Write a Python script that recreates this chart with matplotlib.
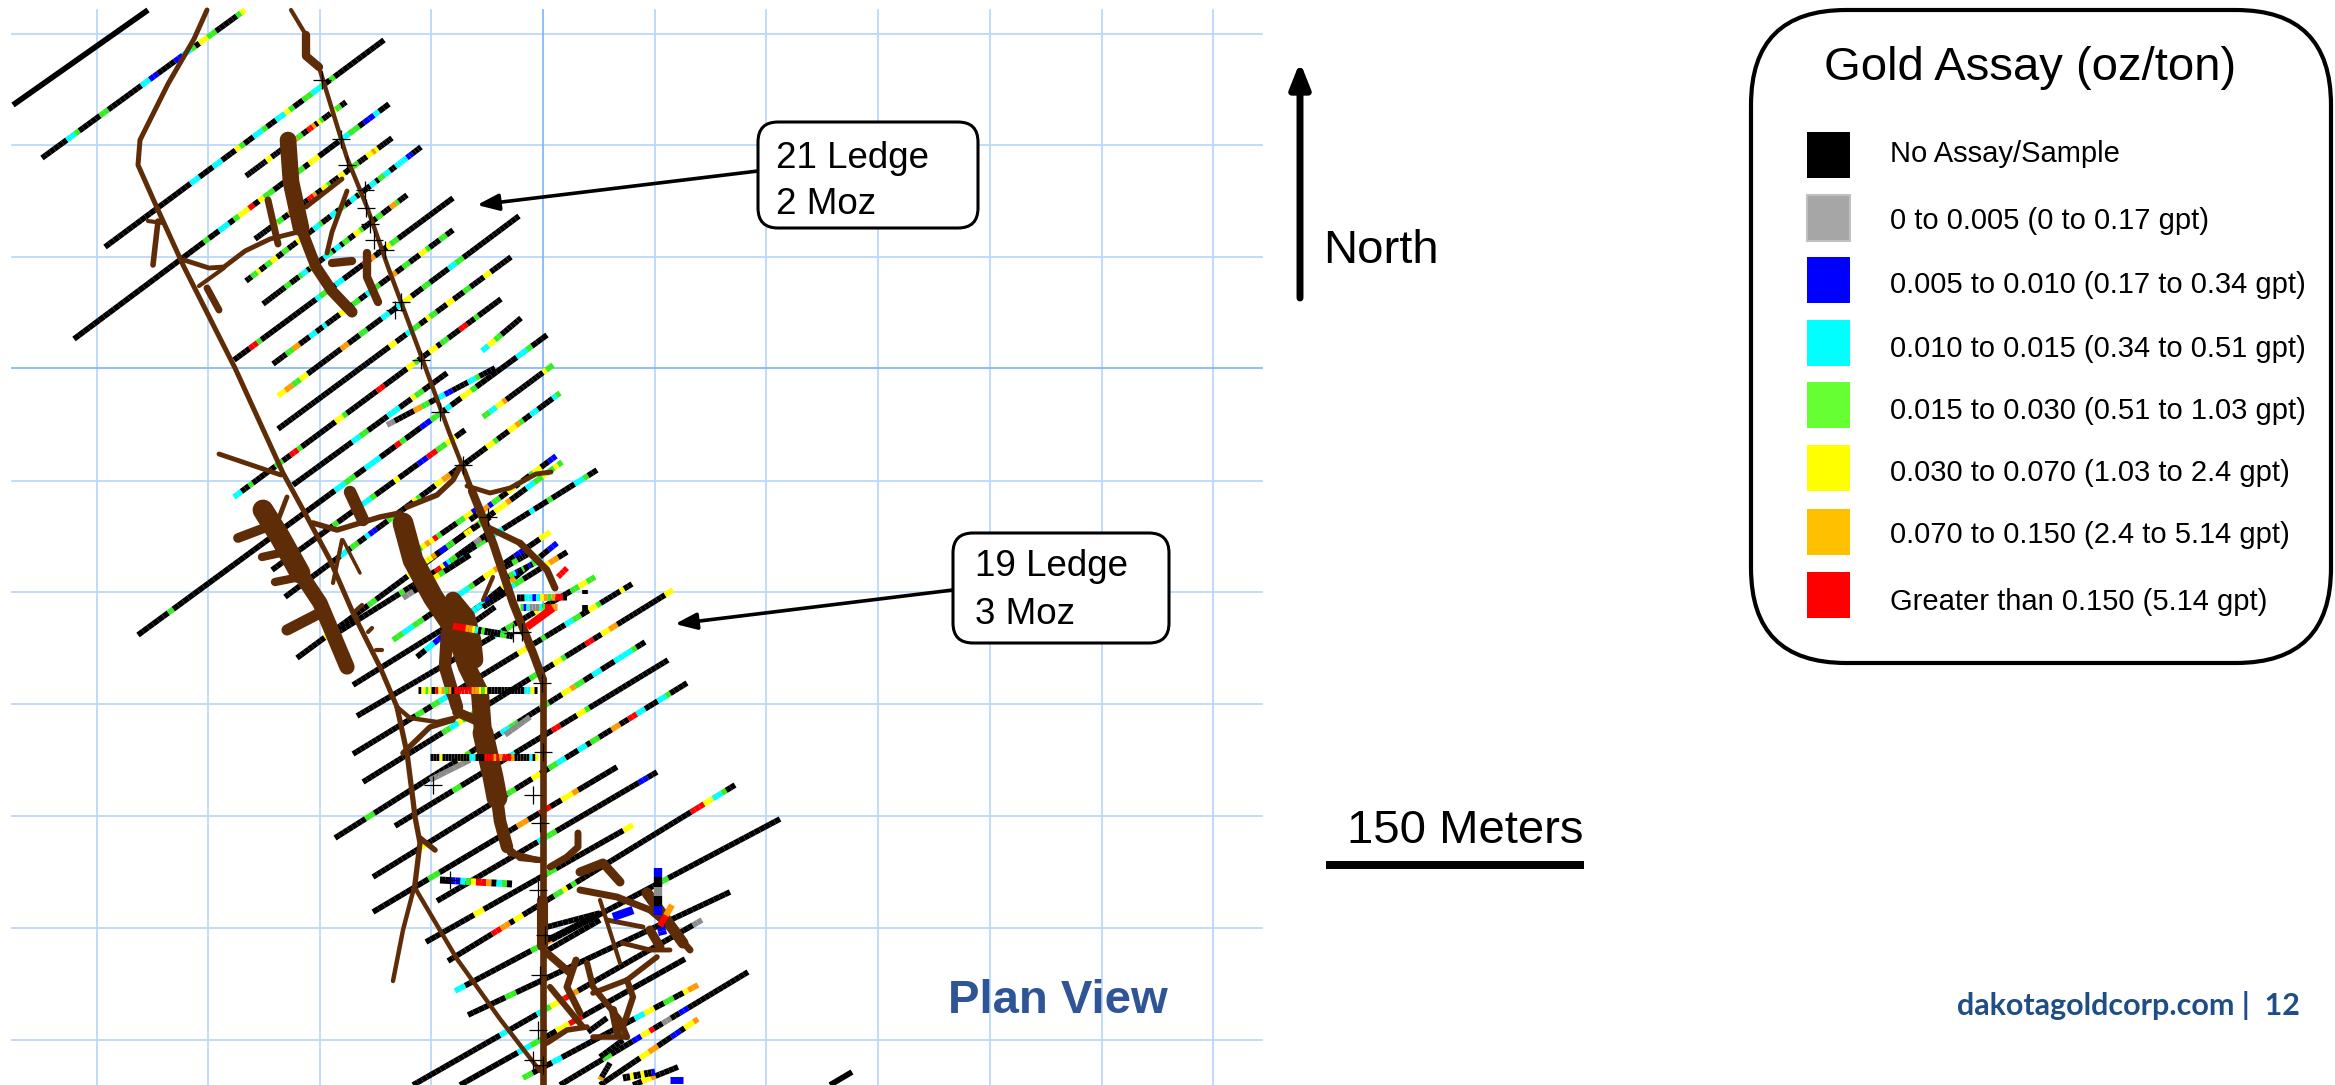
import matplotlib
matplotlib.use("Agg")
import matplotlib.pyplot as plt
from matplotlib.collections import LineCollection
from matplotlib.patches import FancyBboxPatch, Rectangle

plt.rcParams['font.family'] = ['Liberation Sans', 'DejaVu Sans']

W, H = 2335, 1085

# ---- map grid (pixel-registered map coordinates) ----
grid_x = [96.5, 208, 320, 431, 655, 766, 878, 990, 1102, 1213]
grid_y = [33.7, 144.5, 256.5, 481, 592, 704, 816, 928, 1040]
grid_x_major = [543]
grid_y_major = [368]

# ---- gold assay legend ----
legend_labels = ["No Assay/Sample", "0 to 0.005 (0 to 0.17 gpt)", "0.005 to 0.010 (0.17 to 0.34 gpt)",
                 "0.010 to 0.015 (0.34 to 0.51 gpt)", "0.015 to 0.030 (0.51 to 1.03 gpt)",
                 "0.030 to 0.070 (1.03 to 2.4 gpt)", "0.070 to 0.150 (2.4 to 5.14 gpt)",
                 "Greater than 0.150 (5.14 gpt)"]
legend_colors = ["#000000", "#a6a6a6", "#0000ff", "#00ffff", "#66ff33", "#ffff00", "#ffc000", "#ff0000"]
assay_colors = dict(k="#000000", a="#8c8c8c", b="#0000ff", c="#00ffff", l="#33ee22",
                    y="#ffff00", o="#ff9a00", r="#ff0000")

# ---- drill holes: collar, toe, assay code per equal interval ----
hole_start = [(13,105),(42,158),(105,247),(246,176),(74,339),
              (255,239),(246,281),(263,304),(234,360),(273,364),
              (278,396),(278,429),(234,497),(482,351),(293,485),
              (387,425),(483,417),(138,635),(272,570),(285,597),
              (297,658),(337,633),(353,685),(357,716),(353,754),
              (363,782),(335,838),(395,826),(373,877),(373,912),
              (437,901),(426,942),(448,961),(455,991),(468,1015),
              (413,1085),(460,1085),(523,1078),(560,1085),(600,1085),
              (633,1085),(830,1085),(393,640),(417,657),(558,577),
              (418,550),(425,562),(435,572),(505,578),(500,570),
              (483,607),(470,625),(547,927),(547,940),(548,950),
              (588,1032),(600,1057),(600,1080),(585,590),(585,605),
              (470,520),(403,598)]
hole_end = [(148,10),(245,10),(384,40),(346,102),(389,104),
            (392,138),(421,147),(407,195),(453,198),(453,230),
            (519,216),(511,257),(501,299),(521,318),(447,373),
            (495,368),(553,365),(547,335),(465,430),(560,393),
            (562,462),(597,470),(567,552),(595,577),(632,584),
            (673,590),(645,642),(668,660),(687,683),(617,767),
            (657,772),(633,825),(735,785),(780,819),(730,892),
            (702,920),(685,959),(698,985),(748,972),(698,1019),
            (678,1067),(852,1072),(550,532),(557,543),(567,568),
            (480,507),(490,517),(490,532),(537,562),(530,553),
            (510,590),(495,607),(600,913),(593,917),(600,920),
            (607,1018),(623,1040),(610,1063),(585,594),(585,611),
            (556,456),(470,555)]
hole_assay = [
 "k",
 "kkkkkkcclkkkkkllkkkkkkkkccbbkkkkbbcclkyyllkkkkkly",
 "kkkkkkkkkkkkkkkkkkkcckkkcckkkylkkcclkkccylkkllcclklkkkkkkkkkkk",
 "kkkkkkkkyykkkkrryyoollkkrrokylkkkyyllkk",
 "kkkkkkkkkkkkkkkkkkkkkkkkkklkkccklyyrkyllkkrrllkyykkkkccllkbbckk",
 "kkkkkkkyllkkooyklkkrrokkyylkkkyykkyllkkkyyoykkkkk",
 "kkllykkllyykkllkkkyyllkkcclkkkcckllkkccklkkkcckllcckkccccbbkkk",
 "kkkkkkkkllkkklcckllkkkcclkcckllkkyylkkkkkllkkkoolkkk",
 "kkkkrrlkkkkkkkkkkkkkkcllkkcckkkkkrrokkkyllkkkkkkkkkkkkkk",
 "kkkkllookkkcckkckkkkyylkllkkccllkkkookkllkkkyylkkkllkk",
 "yyoollyykkkkkkkkkookkkllkkkkcckkccyykkkllkkkkkccllkkkkkkkkkkkkkkk",
 "kkkkkkkkkkkkkkkkkkkkkkkkkkkkkkkkkyykkkccllkkyllkkkyykkkllkkkkyykkkkkk",
 "cckklkkkkkkllkkrrlkkkkkkkkkyylkkkkkkkkrrkkkkkkyylkkkyykllkkkrrkklkkkkkk",
 "ccyyllkkkkkk",
 "kkkkkkkkkkkkkkkccllkkkkkccckkkyllkkkkkk",
 "aakkkkkoollkkccbbkkkkcclkkkk",
 "llccyyokkkkkkkkkkkyll",
 "kkkkkklkkkkkkkkkkkkkkkkkkkkkkkkkkkkkkkkccllkkccckkkrlkkkbbllkckkyylkkkkkkkkcclkkk",
 "kkkkkkkkkkkkklkkkkkcclkkkkykkkkbbrrllyykk",
 "kkkkkkkkkkkkkkkcckllkkcbbkkkllkkkkkylkkkkyyookkkkkkkkkkyylkkkyyolkkcckkkkcl",
 "kkkkkkkyykkkkkkkkkllkkkkkkkkyykkkkkkkkkkkkkkkolkkkyyyokkkkccllyllyl",
 "kkkkkkkkkkkkkklkkkkkkkcckkkckkkllkkcckkkkkkckkklkkkkkcclkk",
 "kkkkkkkkkkkkkkkkkkkkkyykkkllkkccbkkccllkkkkyyookk",
 "kkkkkkkkkkkkkkkkkkkkkookkkkllkkkkkcckllkkkkkyykkkkkkkllyyll",
 "kkkkkkkkkkkkkkkkllkkllccbbkkkkkkkkkkkkkkkkyyookklkkkkkccllkkyylkkkkkykk",
 "kkkkkkkkkkkkkkkkkkkkllccylllkkkkkkkkkkkkkkllkkkkyylkkkkkrrkkyyookkkkkkkkkkkkyy",
 "kkkkkkkllkkkkkkkkkkkkkkkkkkkyylkkkkkkkccllkkkkkllkkkyyollkkcckkkcccclkk",
 "kkkkkkkkkkkkkkllkkkkkkkkkkkkckkkkkkkkkrrkkkkyylkkkkkkkkkkkkkkkkkkk",
 "kkkkkkkkkkkyykkkkkkkkkkkkkkkkkkkllkkkkyykkllcckkkcckllkkkookkrrcckkkcclkkkk",
 "kkkkkkkkkkllkkkkkkkkkkkkkkookkrrkkyyokkkkkkk",
 "kkkkkkkkkkkkkkkkkkkkkkccllkkkkkkkkkkkkkkkkkkbbkk",
 "kkkkkkkkkkyykkkkkkkkkkkkkllkkkkkkkkkkkkkkyy",
 "kkkkkkkkkkrrookyykkkkkkkllyklkkkkkkkkkkkkkkkkkkkkkkkkkkrrryycclkk",
 "cckkkkkkkkkkkkkllyokkkkkkkkkkkkkkkkkkkkkllkkkkkkkkkkkkkkkkkkkkkk",
 "kkkkkkkllkkkkkkkkkkkkkkkkkkkkkkkkkkkkkkkkkkkkkkkk",
 "kkkkkkkkkkkkkkkkkkkcckkkkkkcclyyrrookkkkkkkkkkkkkkkkkkkkkkkkkaa",
 "kkkkkkkkkccllkkyyrrkkkkkkkkkkkkkkkk",
 "llkkkkcckkkkkkkkkkkkkkkccyykkllkkyoo",
 "kkkkkkkkkkllkkkkkbbyyrkkaakkbbkkkkkkkkkkkkkk",
 "kkkkkkkkkyyookkkbbkyyo",
 "kkyyokkkkk",
 "k",
 "llccllkkbbkkccclkkyyookkbbkkkyy",
 "kkccbbkkkllkkcccbkkkyyokkkcclkkbb",
 "rrr",
 "lyoyrlkkkkllyybk",
 "yyokbbllkkkyykklkk",
 "rrybcllkkkkkkaakkk",
 "bkllcbkklkkbkll",
 "kkkkkllkkkkk",
 "kkkkkkkk",
 "kkkkkkkk",
 "kkkkkkkkkk",
 "kkkkkkkkkk",
 "kkkkkkkkkk",
 "kkkkkk",
 "kkkkkk",
 "okkkkk",
 "k",
 "k",
 "kkyoobllkkyyklkklyykkbb",
 "aakklyylkkkkk",
]
hole_lw = 4.1

# ---- horizontal / low-angle traces drawn over the workings ----
trace_start = [(418,690),(430,757),(517,598),(520,607),(453,626),(440,880),(658,868),(527,627),(660,923),(623,1078),(670,1080),(613,917),(660,926)]
trace_end = [(537,690),(538,757),(567,597),(557,607),(513,636),(512,884),(658,915),(553,608),(663,935),(655,1072),(683,1080),(633,910),(672,905)]
trace_assay = [
 "kylykryolokrrrrrooylykkkkkkkkkkkccyk",
 "kkkykkkkkkkkkcckkkrrrororrrokkkkkcky",
 "kkccbcyolorrk",
 "lbcaaaclrroo",
 "rrrrooycklkkkkkllkk",
 "kkbbclyrrokclk",
 "bbkkaakkbb",
 "r",
 "kbb",
 "kkykkykkb",
 "b",
 "b",
 "ro",
]
trace_lw = [5.0,5.0,5.0,5.0,5.0,5.0,6.0,5.5,6.0,5.0,5.0,6.0,4.5]
gray_start = [(430,780),(505,735)]
gray_end = [(470,760),(530,717)]
gray_assay = ["aaaaa", "aaaa"]

# ---- underground workings: polyline, width ----
tunnel_paths = [
 [(207,10),(194,39),(168,84),(140,140),(138,165),(158,210),(184,267),(235,368),(283,473),(307,517),(330,560),(353,613),(380,667),(397,707)],
 [(397,707),(410,718),(437,722),(457,717)],
 [(397,707),(407,753),(413,800),(415,817),(420,843),(415,884)],
 [(415,884),(403,930),(393,981)],
 [(415,888),(457,959),(500,1019),(540,1071)],
 [(543,679),(543,1085)],
 [(291,10),(306,35)],
 [(319,67),(347,158),(367,207),(388,267),(423,361),(449,432),(464,470)],
 [(464,470),(472,491)],
 [(472,491),(493,543),(513,603),(533,653),(543,680)],
 [(306,35),(306,56),(319,67)],
 [(288,140),(291,182),(301,228)],
 [(301,228),(316,267),(332,291),(352,312)],
 [(268,200),(278,244)],
 [(158,221),(153,265)],
 [(148,221),(163,223)],
 [(184,260),(209,268),(224,267),(245,251),(270,239),(298,232)],
 [(199,286),(224,268)],
 [(207,288),(219,310)],
 [(306,207),(342,179)],
 [(347,191),(332,232),(327,253)],
 [(367,253),(367,277),(378,302)],
 [(332,263),(352,261)],
 [(219,454),(281,475)],
 [(467,486),(490,493),(510,488),(536,474),(551,472)],
 [(263,510),(280,537),(300,573)],
 [(300,573),(320,603),(347,667)],
 [(238,538),(267,527)],
 [(262,557),(285,552)],
 [(275,582),(300,577)],
 [(287,630),(320,613)],
 [(287,497),(277,523)],
 [(333,583),(342,540)],
 [(313,523),(337,530),(380,517),(400,513)],
 [(350,492),(363,520)],
 [(343,540),(360,573)],
 [(403,523),(413,560),(433,597),(453,627)],
 [(453,627),(467,667),(480,693),(483,733)],
 [(483,733),(493,777),(497,798)],
 [(497,798),(500,821),(507,847)],
 [(507,847),(520,858),(540,860)],
 [(453,600),(467,617),(473,640),(475,660)],
 [(447,633),(445,667),(457,707)],
 [(457,712),(480,722)],
 [(487,527),(520,543)],
 [(520,543),(547,570),(555,588)],
 [(493,577),(483,600)],
 [(407,507),(437,495),(453,480),(460,467)],
 [(403,753),(430,727),(453,720)],
 [(353,613),(362,605)],
 [(368,632),(372,628)],
 [(376,650),(382,650)],
 [(420,838),(435,850)],
 [(510,853),(537,860)],
 [(550,867),(567,857),(578,847),(578,833)],
 [(580,872),(603,863),(620,882)],
 [(580,890),(617,897),(650,910),(670,927),(690,950)],
 [(647,893),(683,943)],
 [(600,900),(620,963)],
 [(607,920),(643,927)],
 [(622,943),(650,950),(670,950)],
 [(650,930),(660,947)],
 [(587,963),(593,987),(620,1020),(627,1037)],
 [(547,953),(570,973)],
 [(576,960),(567,987),(580,1013)],
 [(550,987),(583,1027)],
 [(593,1037),(627,1037)],
 [(547,1043),(567,1030),(587,1027)],
 [(593,993),(627,980),(657,957)],
 [(627,980),(633,997),(623,1027)],
 [(542,900),(542,945)],
 [(613,1010),(618,1035)],
]
tunnel_widths = [3.6,3.2,3.8,3.2,3.2,4.8, 3,3.2,4,6, 6, 12,8, 5, 4,3,3.5,3,5,3.5,3.5,6,6,3.5,3.5,
                 15,11, 7,6,6,8, 3.5,3,4,9,2.5, 15,13,15,9,4.5, 12,9,7, 4.5,5,3,4,4, 3,3,3,4,
                 4.5,5,6.5,5,8,3,3.5,3.5,6.5,4.5,5.5,5,4.5,4,4,4,4.5,8,6]

# ---- survey crosses ----
cross_x = [322,341,347,365,366,370,374,385,401,395,421,440,463,488,513,522,542,543,433,533,540,450,538,545,540,538,543,533]
cross_y = [80,139,165,190,208,224,240,250,302,310,360,412,465,517,633,632,683,752,785,795,823,880,890,935,975,1030,1065,1060]

fig = plt.figure(figsize=(W/100, H/100), dpi=100, facecolor="white")
ax = fig.add_axes([0, 0, 1, 1])
ax.set_xlim(0, W)
ax.set_ylim(H, 0)
ax.axis("off")

# grid
for x in grid_x:
    ax.plot([x, x], [10, H], color="#b5d6fa", lw=1.2, zorder=1)
for y in grid_y:
    ax.plot([12, 1262], [y, y], color="#b5d6fa", lw=1.2, zorder=1)
for x in grid_x_major:
    ax.plot([x, x], [10, H], color="#7ab4f5", lw=1.2, zorder=1)
for y in grid_y_major:
    ax.plot([12, 1262], [y, y], color="#7ab4f5", lw=1.2, zorder=1)


def draw_holes(starts, ends, codes, lw, z):
    for (x0, y0), (x1, y1), code in zip(starts, ends, codes):
        n = len(code)
        segs, cols = [], []
        for i, c in enumerate(code):
            a, b = i / n, (i + 1) / n
            segs.append([(x0 + (x1 - x0) * a, y0 + (y1 - y0) * a),
                         (x0 + (x1 - x0) * b, y0 + (y1 - y0) * b)])
            cols.append(assay_colors[c])
        ax.add_collection(LineCollection(segs, colors=cols, linewidths=lw, capstyle="butt", zorder=z))


draw_holes(hole_start, hole_end, hole_assay, hole_lw, 2)
draw_holes(gray_start, gray_end, gray_assay, 4.0, 2.5)

# workings
ax.add_collection(LineCollection(tunnel_paths, colors="#5f2c08", linewidths=tunnel_widths,
                                 capstyle="round", joinstyle="round", zorder=3))

for s, e, c, w in zip(trace_start, trace_end, trace_assay, trace_lw):
    draw_holes([s], [e], [c], w, 4)

ax.plot(cross_x, cross_y, ls="none", marker="+", color="black", ms=13, mew=0.9, zorder=5)

# callouts
box_kw = dict(boxstyle="round,pad=0,rounding_size=20", fc="white", ec="black", lw=2.2, zorder=6)
ax.add_patch(FancyBboxPatch((758, 122), 220, 106, **box_kw))
ax.add_patch(FancyBboxPatch((953, 533), 216, 110, **box_kw))
ax.text(776, 159, "21 Ledge", fontsize=26.5, va="center", zorder=7)
ax.text(776, 204, "2 Moz", fontsize=26.5, va="center", zorder=7)
ax.text(975, 567, "19 Ledge", fontsize=26.5, va="center", zorder=7)
ax.text(975, 614, "3 Moz", fontsize=26.5, va="center", zorder=7)
arrow_kw = dict(arrowstyle="-|>,head_length=1.3,head_width=0.5", color="black", lw=2.6, shrinkA=0, shrinkB=0)
ax.annotate("", xy=(477, 205), xytext=(758, 171), arrowprops=arrow_kw, zorder=5)
ax.annotate("", xy=(675, 624), xytext=(953, 590), arrowprops=arrow_kw, zorder=5)

# north arrow
ax.annotate("", xy=(1300, 62), xytext=(1300, 298),
            arrowprops=dict(arrowstyle="-|>,head_length=1.5,head_width=0.6", color="black", lw=5, shrinkA=0, shrinkB=0))
ax.text(1323, 251, "North", fontsize=34, va="center")

# scale bar
ax.add_patch(Rectangle((1326, 861), 258, 8, fc="black", ec="none"))
ax.text(1347, 831, "150 Meters", fontsize=34, va="center")

ax.text(948, 1001, "Plan View", fontsize=34, fontweight="bold", color="#2f5597", va="center", zorder=7)
ax.text(2300, 1006, "dakotagoldcorp.com |  12", fontsize=22, fontweight="bold", color="#1f4e86",
        va="center", ha="right", family=["Lato", "DejaVu Sans"])

# legend
ax.add_patch(FancyBboxPatch((1751, 10), 580, 653, boxstyle="round,pad=0,rounding_size=95",
                            fc="white", ec="black", lw=3))
ax.text(2030, 68, "Gold Assay (oz/ton)", fontsize=34, ha="center", va="center")
swatch_y = [155, 218, 280, 343, 405, 468, 532, 595]
text_y = [154, 221, 285, 349, 411, 473, 535, 602]
for lab, col, sy, ty in zip(legend_labels, legend_colors, swatch_y, text_y):
    ec = "#c0c0c0" if col == "#a6a6a6" else "none"
    ax.add_patch(Rectangle((1807, sy - 23), 43, 46, fc=col, ec=ec, lw=1.5))
    ax.text(1890, ty, lab, fontsize=21, va="center")

fig.savefig("out.png", dpi=100, facecolor="white")
